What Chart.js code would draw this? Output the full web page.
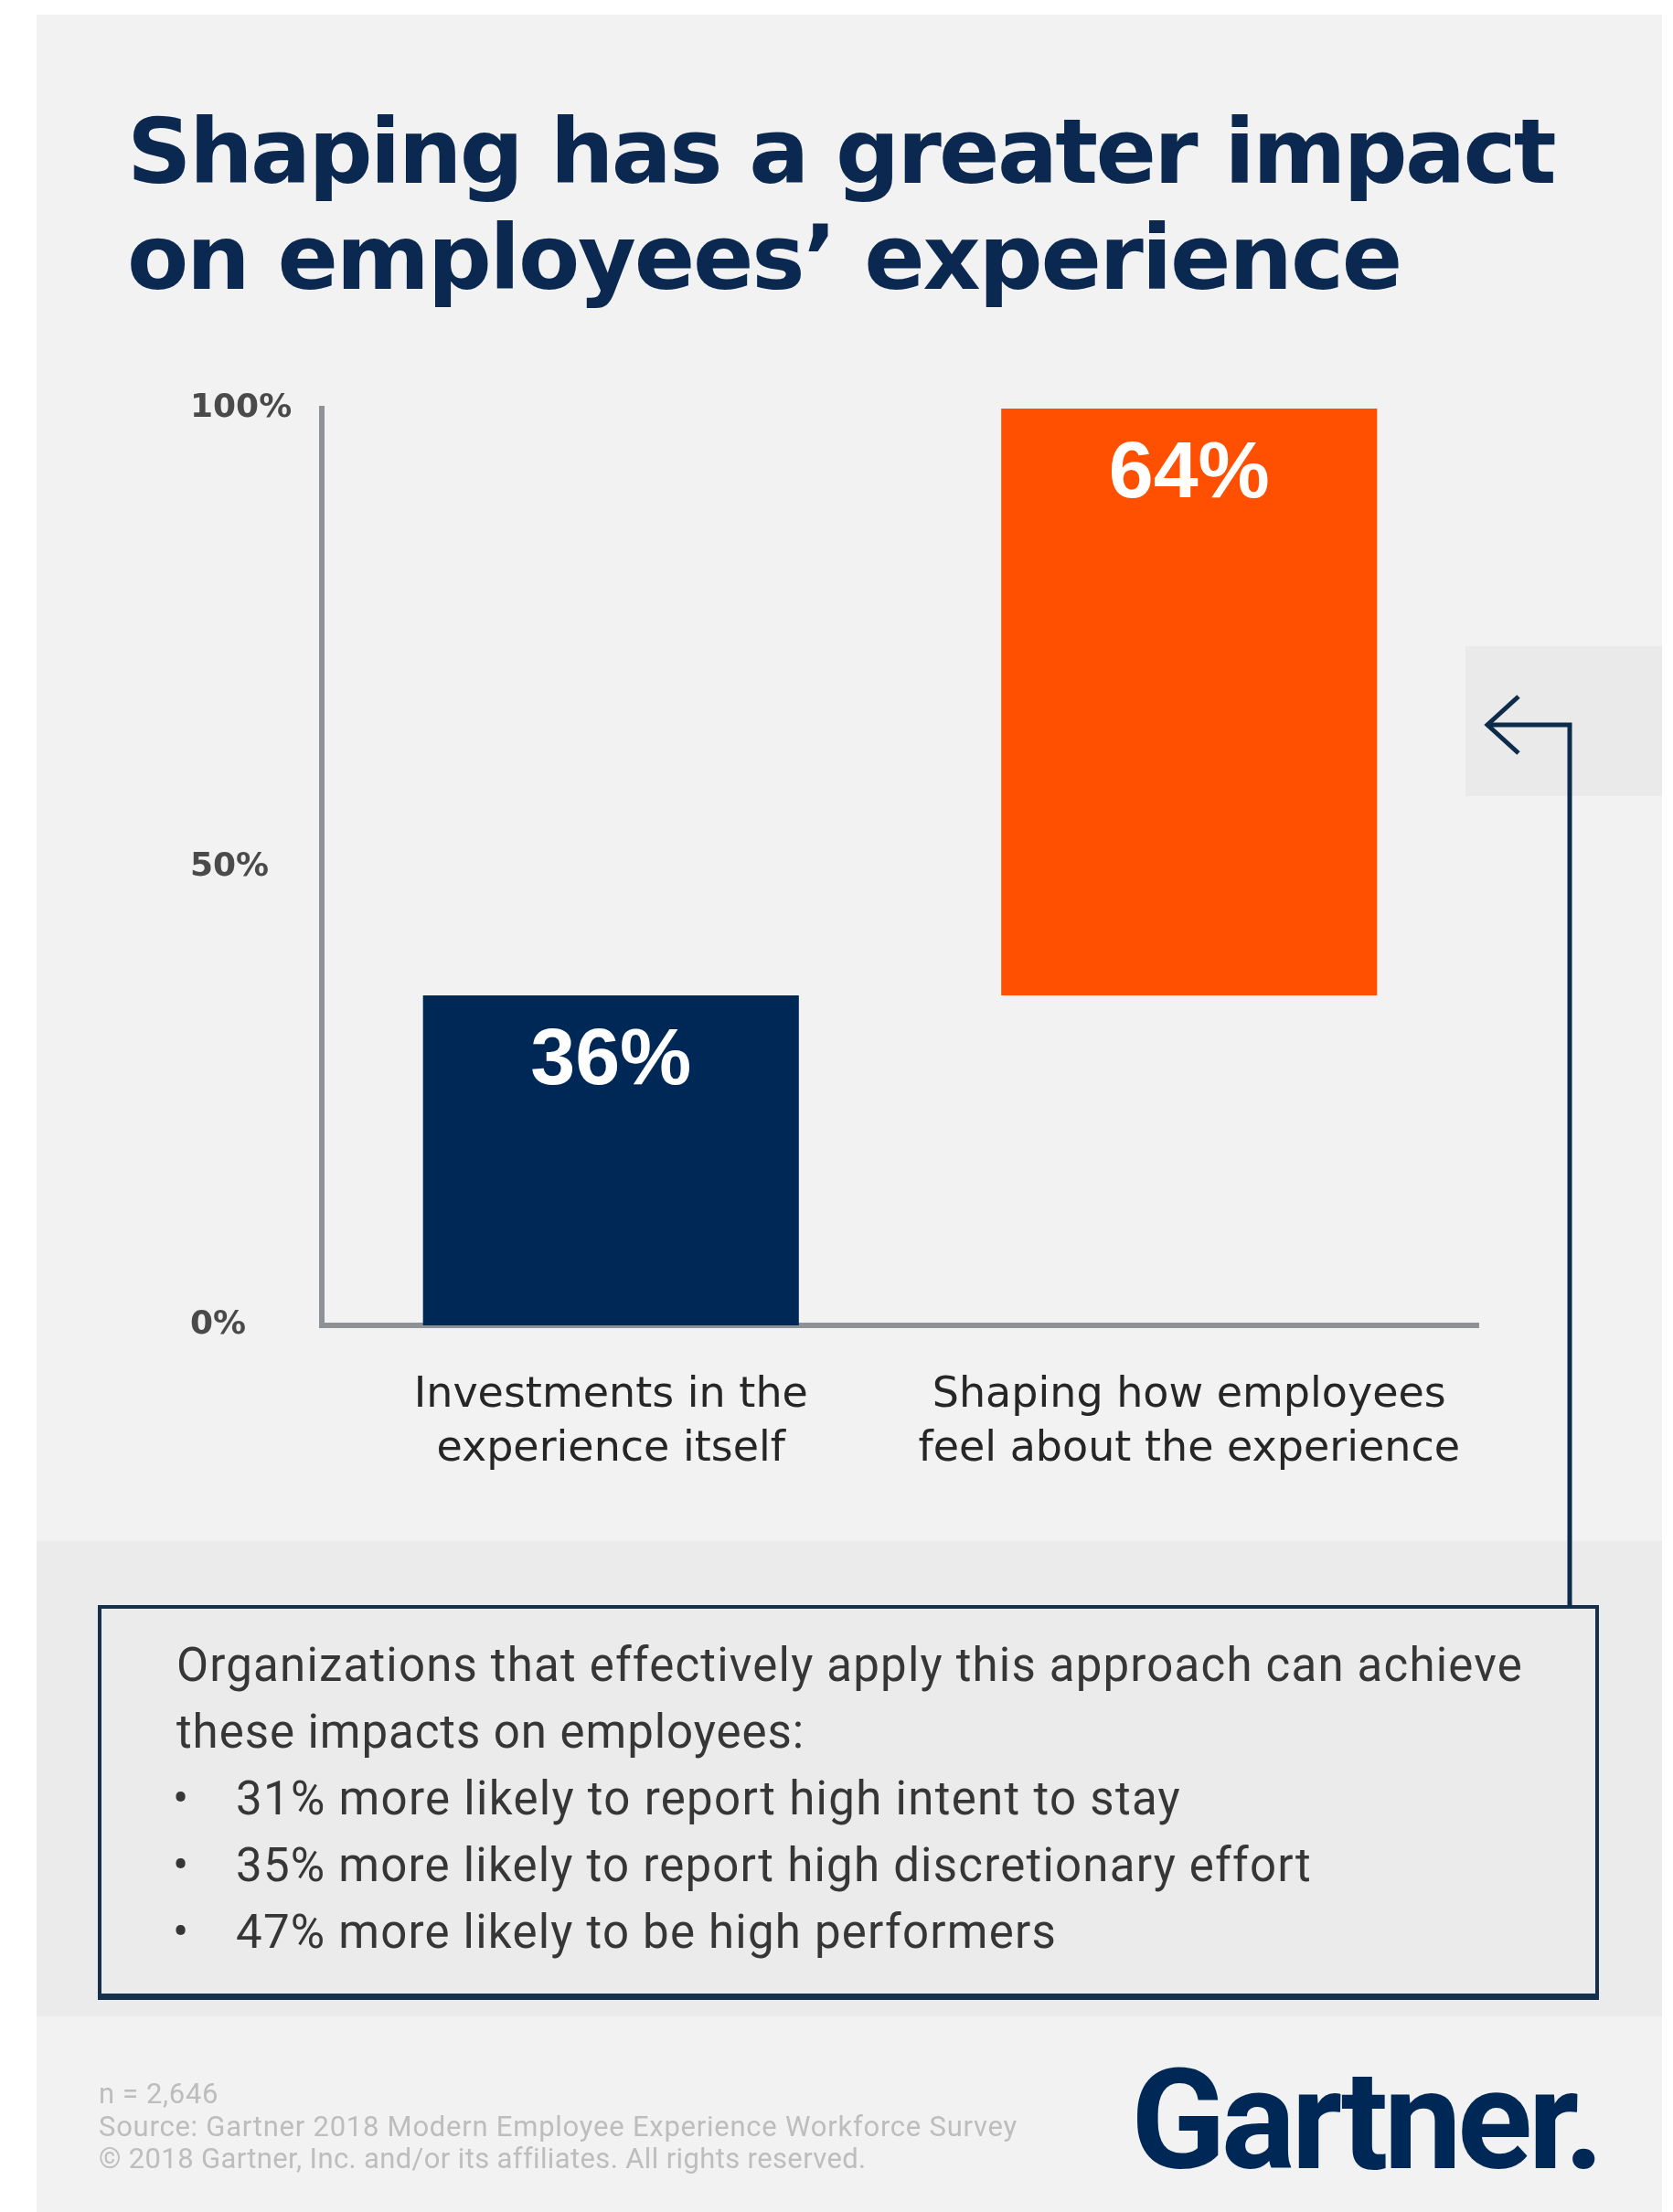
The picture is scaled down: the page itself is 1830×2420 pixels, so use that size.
<!DOCTYPE html>
<html>
<head>
<meta charset="utf-8">
<script src="https://cdn.jsdelivr.net/npm/chart.js@4.4.1/dist/chart.umd.min.js"></script>
<style>
  html, body { margin: 0; padding: 0; background: #fff; }
  #page { position: relative; width: 1830px; height: 2420px; overflow: hidden; background: #fff; }
  .abs { position: absolute; white-space: nowrap; }
  #card { left: 40px; top: 16px; width: 1778px; height: 2404px; background: #f2f2f2; }
  #band { left: 40px; top: 1686px; width: 1778px; height: 520px; background: #ebebeb; }
  #patch { left: 1603px; top: 707px; width: 215px; height: 164px; background: #eaeaea; }
  .title { left: 139px; font-family: "DejaVu Sans"; font-weight: bold; font-size: 98px; line-height: 98px; color: #0b2850; }
  #chart { left: 0; top: 380px; }
  #note { left: 107px; top: 1756px; width: 1642px; height: 429px; box-sizing: border-box;
          border: 4px solid #15304f; box-shadow: 0 3px 0 #15304f; background: #ebebeb; }
  .noteLine { font-family: Roboto; font-size: 51px; line-height: 51px; color: #363636; }
  .foot { left: 108px; font-family: Roboto; font-size: 31px; line-height: 31px; color: #bdbdbd; }
  #logo { left: 1237px; top: 2244px; font-family: Roboto; font-weight: bold; font-size: 152px; line-height: 152px; color: #002856; }
</style>
</head>
<body>
<div id="page">
  <div id="card" class="abs"></div>
  <div id="band" class="abs"></div>
  <div id="patch" class="abs"></div>

  <div id="title1" class="abs title" style="top:117px">Shaping has a greater impact</div>
  <div id="title2" class="abs title" style="top:233px">on employees’ experience</div>

  <canvas id="chart" class="abs" width="1830" height="1300"></canvas>

  <div id="note" class="abs"></div>
  <div id="n1" class="abs noteLine" style="left:193px; top:1796px">Organizations that effectively apply this approach can achieve</div>
  <div id="n2" class="abs noteLine" style="left:193px; top:1869px">these impacts on employees:</div>
  <div class="abs noteLine" style="left:189px; top:1942px">•</div>
  <div id="n3" class="abs noteLine" style="left:258px; top:1942px">31% more likely to report high intent to stay</div>
  <div class="abs noteLine" style="left:189px; top:2015px">•</div>
  <div id="n4" class="abs noteLine" style="left:258px; top:2015px">35% more likely to report high discretionary effort</div>
  <div class="abs noteLine" style="left:189px; top:2088px">•</div>
  <div id="n5" class="abs noteLine" style="left:258px; top:2088px">47% more likely to be high performers</div>

  <svg class="abs" style="left:0; top:0" width="1830" height="2420">
    <path d="M1717 1758 V793 H1626" fill="none" stroke="#0d2b4b" stroke-width="5"/>
    <path d="M1661 762 L1627 793 L1661 824" fill="none" stroke="#0d2b4b" stroke-width="5"/>
  </svg>

  <div id="f1" class="abs foot" style="top:2275px">n = 2,646</div>
  <div id="f2" class="abs foot" style="top:2311px">Source: Gartner 2018 Modern Employee Experience Workforce Survey</div>
  <div id="f3" class="abs foot" style="top:2346px">© 2018 Gartner, Inc. and/or its affiliates. All rights reserved.</div>
  <div id="logo" class="abs">Gartner.</div>
</div>

<script>
// chart data
const categories = [
  ["Investments in the", "experience itself"],
  ["Shaping how employees", "feel about the experience"]
];
const shares = [36, 64];
const barColors = ["#002856", "#fe5000"];
const yTicks = [0, 50, 100];

// each bar starts where the previous one ended
let run = 0;
const spans = shares.map((v) => {
  const s = [run, run + v];
  run += v;
  return s;
});

// stretch text lines to the widths they have in the picture
function fitWidth(id, target) {
  const el = document.getElementById(id);
  el.style.letterSpacing = "0px";
  const w = el.getBoundingClientRect().width;
  el.style.letterSpacing = (target - w) / el.textContent.length + "px";
}
fitWidth("title1", 1561);
fitWidth("title2", 1393);
fitWidth("n1", 1473);
fitWidth("n2", 687);
fitWidth("n3", 1034);
fitWidth("n4", 1177);
fitWidth("n5", 898);
fitWidth("f1", 131);
fitWidth("f2", 1005);
fitWidth("f3", 837);
fitWidth("logo", 513);

const valueLabels = {
  id: "valueLabels",
  afterDatasetsDraw(chart) {
    const ctx = chart.ctx;
    const meta = chart.getDatasetMeta(0);
    ctx.save();
    ctx.font = 'bold 88px "Liberation Sans"';
    ctx.fillStyle = "#ffffff";
    ctx.textAlign = "center";
    ctx.textBaseline = "middle";
    meta.data.forEach((bar, i) => {
      ctx.fillText(shares[i] + "%", bar.x, bar.y + 73);
    });
    ctx.restore();
  },
};

const axisLine = { display: true, color: "#8e9297", width: 6 };

new Chart(document.getElementById("chart"), {
  type: "bar",
  data: {
    labels: categories,
    datasets: [
      {
        data: spans,
        backgroundColor: barColors,
        borderWidth: 0,
        categoryPercentage: 1,
        barPercentage: 0.65,
      },
    ],
  },
  options: {
    responsive: false,
    animation: false,
    layout: { padding: { left: 208, top: 67, right: 213, bottom: 0 } },
    plugins: { legend: { display: false }, tooltip: { enabled: false } },
    scales: {
      x: {
        grid: { display: false, drawTicks: false },
        border: axisLine,
        ticks: {
          font: { family: "DejaVu Sans", size: 46, lineHeight: 1.283 },
          color: "#262626",
          padding: 48,
          maxRotation: 0,
        },
        afterFit: (s) => { s.height = 230; },
      },
      y: {
        min: 0,
        max: 100,
        afterBuildTicks: (s) => { s.ticks = yTicks.map((v) => ({ value: v })); },
        grid: { display: false, drawTicks: false },
        border: axisLine,
        ticks: {
          crossAlign: "far",
          font: { family: "DejaVu Sans", weight: "bold", size: 36 },
          color: "#4a4a4a",
          callback: (v) => v + "%",
        },
        afterFit: (s) => { s.width = 144; },
      },
    },
  },
  plugins: [valueLabels],
});
</script>
</body>
</html>
